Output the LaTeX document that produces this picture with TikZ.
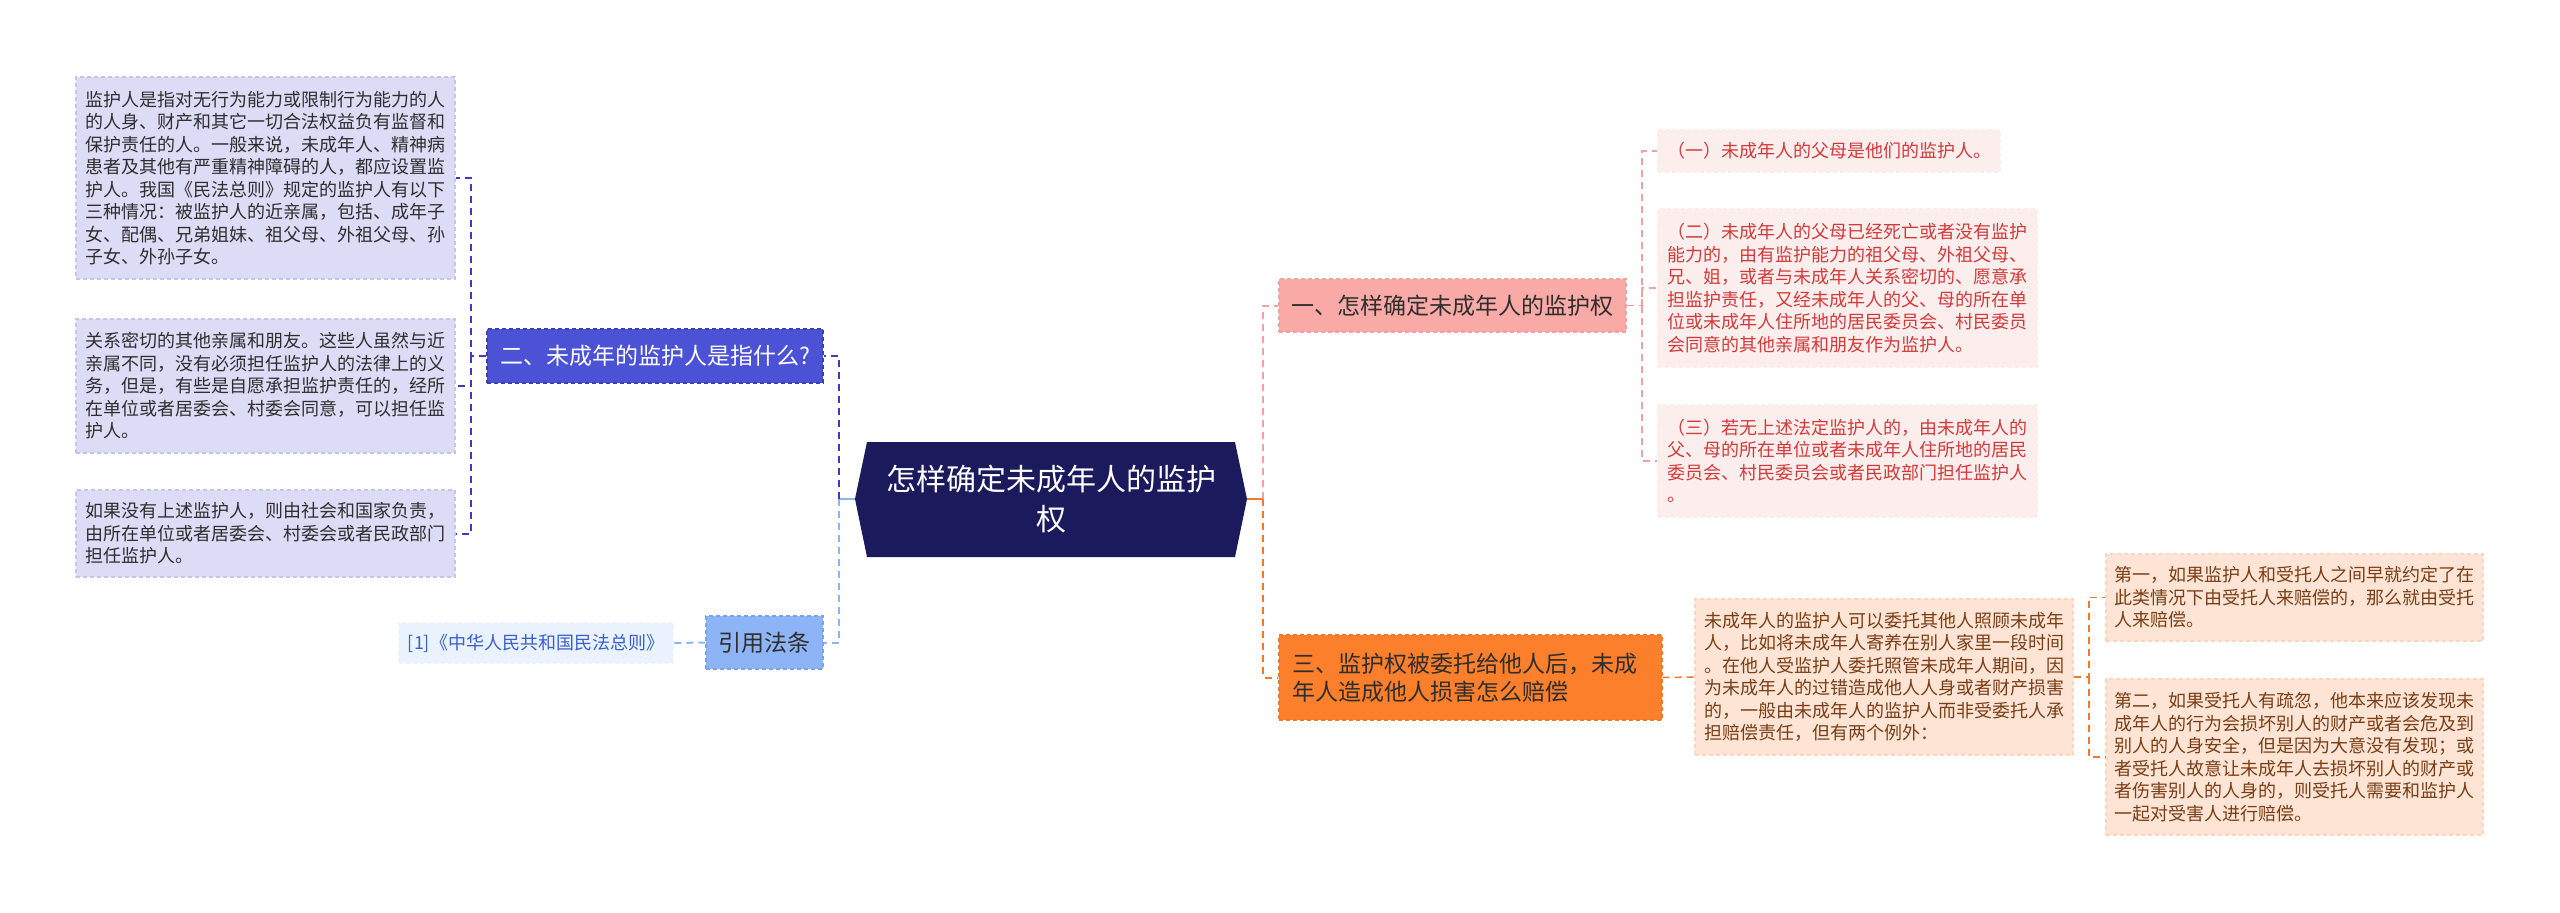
\documentclass[tikz,border=0pt]{standalone}
\usepackage{fontspec}
\newfontfamily\cjk{Noto Sans CJK SC}
\definecolor{rootfill}{HTML}{1B1A5C}
\definecolor{qtwo}{HTML}{4B52D6}
\definecolor{qtwoline}{HTML}{3A3FB8}
\definecolor{lleaffill}{HTML}{DCDCF6}
\definecolor{lleafline}{HTML}{C4C4EC}
\definecolor{citefill}{HTML}{8DB4F6}
\definecolor{citeline}{HTML}{79A3EE}
\definecolor{refill}{HTML}{EAF2FE}
\definecolor{retext}{HTML}{3A5FCC}
\definecolor{qone}{HTML}{F9A9A6}
\definecolor{qoneline}{HTML}{F2A0A0}
\definecolor{pinkfill}{HTML}{FDEEEE}
\definecolor{pinktext}{HTML}{D23A3A}
\definecolor{qthree}{HTML}{FC7F2C}
\definecolor{qthreeline}{HTML}{EF7A2E}
\definecolor{peachfill}{HTML}{FDE4D5}
\definecolor{peachtext}{HTML}{7A3E16}
\definecolor{darktext}{HTML}{2E2E2E}
\tikzset{
  boxbase/.style={rectangle, inner sep=0pt, align=left, line width=1.2pt, dash pattern=on 4pt off 3pt},
  leaftext/.style={font=\cjk\fontsize{18}{22.5}\selectfont},
  lleaf/.style={boxbase, leaftext, fill=lleaffill, draw=lleafline, text=darktext},
  pleaf/.style={boxbase, leaftext, fill=pinkfill, draw=pinkfill!90!pinktext!50, text=pinktext},
  oleaf/.style={boxbase, leaftext, fill=peachfill, draw=peachfill!85!qthree, text=peachtext},
  citeleaf/.style={boxbase, leaftext, fill=refill, draw=refill, text=retext},
  qtwobox/.style={boxbase, font=\cjk\fontsize{23}{28}\selectfont, fill=qtwo, draw=qtwoline, text=white},
  citebox/.style={boxbase, font=\cjk\fontsize{23}{28}\selectfont, fill=citefill, draw=citeline, text=darktext},
  qonebox/.style={boxbase, font=\cjk\fontsize{23}{28}\selectfont, fill=qone, draw=qoneline, text=darktext},
  qthreebox/.style={boxbase, font=\cjk\fontsize{23}{28}\selectfont, fill=qthree, draw=qthreeline, text=darktext},
  conn/.style={line width=2pt, dash pattern=on 7pt off 5pt},
  solidconn/.style={line width=2.5pt},
}
\begin{document}
\begin{tikzpicture}[x=1pt,y=-1pt]
\useasboundingbox (0,0) rectangle (2560,913);
\fill[white] (0,0) rectangle (2560,913);

% root hexagon
\fill[rootfill] (855,499) -- (867,442) -- (1235,442) -- (1247,499) -- (1235,557) -- (867,557) -- cycle;
\node[font=\cjk\fontsize{30}{40}\selectfont, text=white, align=center] (root) at (1051,499) {怎样确定未成年人的监护\\权};
\coordinate (rootL) at (855,499);
\coordinate (rootR) at (1247,499);
\coordinate (jL) at (839,499);
\coordinate (jR) at (1263,499);

% left branch
\node[qtwobox, minimum width=336pt, minimum height=54pt] (Q2) at (655,356) {二、未成年的监护人是指什么?};
\node[citebox, minimum width=117pt, minimum height=53pt] (Cite) at (764.5,642.5) {引用法条};
\node[citeleaf, minimum width=274pt, minimum height=40pt] (Ref) at (536,643) {[1]《中华人民共和国民法总则》};

\node[lleaf, minimum width=379pt, minimum height=202pt] (L1) at (265.5,178) {监护人是指对无行为能力或限制行为能力的人\\的人身、财产和其它一切合法权益负有监督和\\保护责任的人。一般来说，未成年人、精神病\\患者及其他有严重精神障碍的人，都应设置监\\护人。我国《民法总则》规定的监护人有以下\\三种情况：被监护人的近亲属，包括、成年子\\女、配偶、兄弟姐妹、祖父母、外祖父母、孙\\子女、外孙子女。};
\node[lleaf, minimum width=379pt, minimum height=134pt] (L2) at (265.5,386) {关系密切的其他亲属和朋友。这些人虽然与近\\亲属不同，没有必须担任监护人的法律上的义\\务，但是，有些是自愿承担监护责任的，经所\\在单位或者居委会、村委会同意，可以担任监\\护人。};
\node[lleaf, minimum width=379pt, minimum height=87pt] (L3) at (265.5,533.5) {如果没有上述监护人，则由社会和国家负责，\\由所在单位或者居委会、村委会或者民政部门\\担任监护人。};

% right branch
\node[qonebox, minimum width=347pt, minimum height=53pt] (Q1) at (1452.5,305.5) {一、怎样确定未成年人的监护权};
\node[qthreebox, minimum width=383pt, minimum height=85pt, text width=357pt] (Q3) at (1470.5,677.5) {三、监护权被委托给他人后，未成\\年人造成他人损害怎么赔偿};

\node[pleaf, minimum width=342pt, minimum height=42pt] (Ra) at (1829,151) {（一）未成年人的父母是他们的监护人。};
\node[pleaf, minimum width=379pt, minimum height=158pt] (Rb) at (1847.5,288) {（二）未成年人的父母已经死亡或者没有监护\\能力的，由有监护能力的祖父母、外祖父母、\\兄、姐，或者与未成年人关系密切的、愿意承\\担监护责任，又经未成年人的父、母的所在单\\位或未成年人住所地的居民委员会、村民委员\\会同意的其他亲属和朋友作为监护人。};
\node[pleaf, minimum width=379pt, minimum height=112pt] (Rc) at (1847.5,461) {（三）若无上述法定监护人的，由未成年人的\\父、母的所在单位或者未成年人住所地的居民\\委员会、村民委员会或者民政部门担任监护人\\。};

\node[oleaf, minimum width=378pt, minimum height=156pt] (Rd) at (1884,677) {未成年人的监护人可以委托其他人照顾未成年\\人，比如将未成年人寄养在别人家里一段时间\\。在他人受监护人委托照管未成年人期间，因\\为未成年人的过错造成他人人身或者财产损害\\的，一般由未成年人的监护人而非受委托人承\\担赔偿责任，但有两个例外：};
\node[oleaf, minimum width=377pt, minimum height=87pt] (Re) at (2294.5,597.5) {第一，如果监护人和受托人之间早就约定了在\\此类情况下由受托人来赔偿的，那么就由受托\\人来赔偿。};
\node[oleaf, minimum width=377pt, minimum height=156pt] (Rf) at (2294.5,757) {第二，如果受托人有疏忽，他本来应该发现未\\成年人的行为会损坏别人的财产或者会危及到\\别人的人身安全，但是因为大意没有发现；或\\者受托人故意让未成年人去损坏别人的财产或\\者伤害别人的人身的，则受托人需要和监护人\\一起对受害人进行赔偿。};

% connectors left
\draw[solidconn, citefill] (rootL) -- (jL);
\draw[conn, qtwoline] (jL) |- (Q2.east);
\draw[conn, citefill] (jL) |- (Cite.east);
\draw[conn, citefill] (Cite.west) -- (Ref.east);
\coordinate (jQ2) at (471,356);
\draw[conn, qtwoline] (Q2.west) -- (jQ2) |- (L1.east);
\draw[conn, qtwoline] (jQ2) |- (L2.east);
\draw[conn, qtwoline] (jQ2) |- (L3.east);

% connectors right
\draw[solidconn, qthreeline] (rootR) -- (jR);
\draw[conn, qoneline] (jR) |- (Q1.west);
\draw[conn, qthreeline] (jR) |- (Q3.west);
\coordinate (jQ1) at (1642,305.5);
\draw[conn, qoneline, line width=1.5pt] (Q1.east) -- (jQ1) |- (Ra.west);
\draw[conn, qoneline, line width=1.5pt] (jQ1) |- (Rb.west);
\draw[conn, qoneline, line width=1.5pt] (jQ1) |- (Rc.west);
\draw[conn, qthreeline, line width=1.5pt] (Q3.east) -- (Rd.west);
\coordinate (jRd) at (2089,677);
\draw[conn, qthreeline, line width=1.5pt] (Rd.east) -- (jRd) |- (Re.west);
\draw[conn, qthreeline, line width=1.5pt] (jRd) |- (Rf.west);
\end{tikzpicture}
\end{document}
